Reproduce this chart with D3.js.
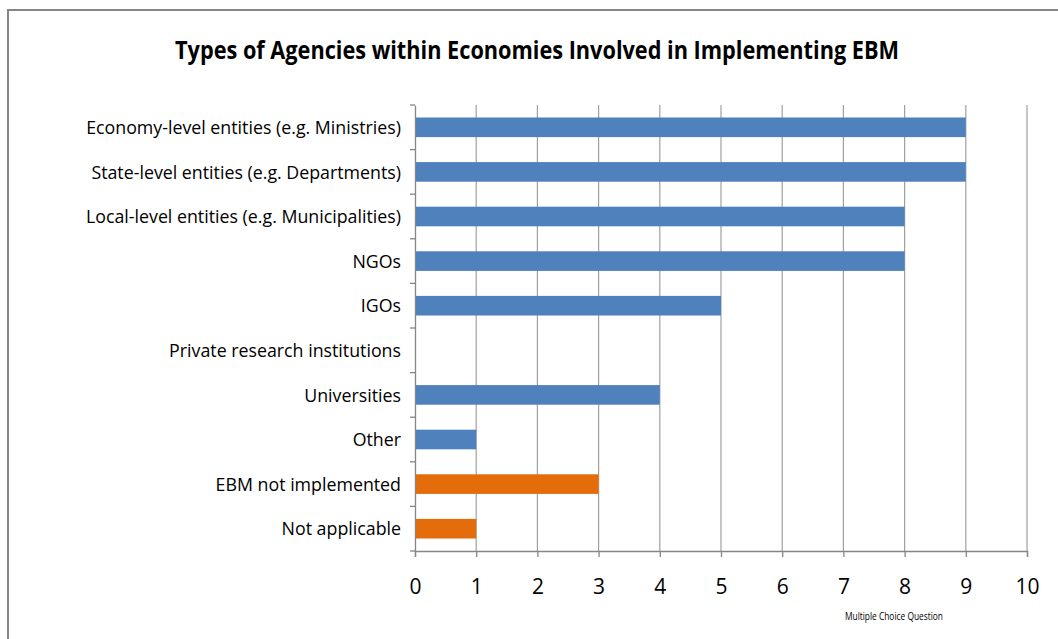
<!DOCTYPE html>
<html>
<head>
<meta charset="utf-8">
<script src="https://cdn.jsdelivr.net/npm/d3@7"></script>
<style>
  html, body { margin: 0; padding: 0; background: #fff; }
  svg { display: block; }
</style>
</head>
<body>
<svg id="chart" width="1058" height="639"></svg>
<script>
// Agency types, in the order they appear from top to bottom
const categories = [
  "Economy-level entities (e.g. Ministries)",
  "State-level entities (e.g. Departments)",
  "Local-level entities (e.g. Municipalities)",
  "NGOs",
  "IGOs",
  "Private research institutions",
  "Universities",
  "Other",
  "EBM not implemented",
  "Not applicable"
];
// Number of economies choosing each answer
const counts = [9, 9, 8, 8, 5, 0, 4, 1, 3, 1];
// Answer group: agency types vs. non-implementation answers
const groups = ["agency", "agency", "agency", "agency", "agency", "agency", "agency", "agency", "none", "none"];
const xTicks = [0, 1, 2, 3, 4, 5, 6, 7, 8, 9, 10];

const title = "Types of Agencies within Economies Involved in Implementing EBM";
const xTitle = "Multiple Choice Question";

const svg = d3.select("#chart");
const font = "'Open Sans', 'Liberation Sans', sans-serif";

// chart frame
svg.append("rect")
  .attr("x", 8).attr("y", 10)
  .attr("width", 1070).attr("height", 660)
  .attr("fill", "#fff")
  .attr("stroke", "#868686")
  .attr("stroke-width", 2);

const plot = { left: 415, right: 1027, top: 105, bottom: 551 };

const x = d3.scaleLinear().domain([0, 10]).range([plot.left, plot.right]);
const y = d3.scaleBand().domain(categories).range([plot.top, plot.bottom]).paddingInner(0.56).paddingOuter(0.28);
const color = d3.scaleOrdinal().domain(["agency", "none"]).range(["#4F81BD", "#E46C0A"]);

// vertical gridlines
svg.append("g")
  .selectAll("line")
  .data(xTicks.filter(d => d > 0))
  .join("line")
  .attr("x1", d => x(d)).attr("x2", d => x(d))
  .attr("y1", plot.top).attr("y2", plot.bottom)
  .attr("stroke", "#a0a0a0")
  .attr("stroke-width", 1.2);

// bars
svg.append("g")
  .selectAll("rect")
  .data(categories.map((c, i) => ({ c, v: counts[i], g: groups[i] })))
  .join("rect")
  .attr("x", x(0))
  .attr("y", d => y(d.c))
  .attr("width", d => x(d.v) - x(0))
  .attr("height", y.bandwidth())
  .attr("fill", d => color(d.g));

// category axis
const yAxis = svg.append("g")
  .attr("transform", `translate(${plot.left},0)`)
  .call(d3.axisLeft(y).tickSize(0).tickPadding(14));
yAxis.select(".domain").attr("stroke", "#868686").attr("stroke-width", 1.3);
yAxis.selectAll("text")
  .attr("font-family", font)
  .attr("font-size", 17.8)
  .attr("dy", "0.38em")
  .attr("fill", "#000");

// small tick marks between categories
svg.append("g")
  .selectAll("line")
  .data(d3.range(categories.length + 1))
  .join("line")
  .attr("x1", plot.left - 5).attr("x2", plot.left)
  .attr("y1", i => plot.top + i * (plot.bottom - plot.top) / categories.length)
  .attr("y2", i => plot.top + i * (plot.bottom - plot.top) / categories.length)
  .attr("stroke", "#868686").attr("stroke-width", 1.3);

// value axis
const xAxis = svg.append("g")
  .attr("transform", `translate(0,${plot.bottom})`)
  .call(d3.axisBottom(x).tickValues(xTicks).tickFormat(d3.format("d")).tickSize(6).tickPadding(22));
xAxis.select(".domain").attr("stroke", "#868686").attr("stroke-width", 1.3);
xAxis.selectAll(".tick line").attr("stroke", "#868686").attr("stroke-width", 1.3);
xAxis.selectAll("text")
  .attr("font-family", font)
  .attr("font-size", 21)
  .attr("fill", "#000");

// titles
svg.append("text")
  .attr("x", 537).attr("y", 59)
  .attr("text-anchor", "middle")
  .attr("font-family", font)
  .attr("font-weight", "bold")
  .attr("font-size", 25)
  .attr("textLength", 724)
  .attr("lengthAdjust", "spacingAndGlyphs")
  .attr("fill", "#000")
  .text(title);

svg.append("text")
  .attr("x", 894).attr("y", 620)
  .attr("text-anchor", "middle")
  .attr("font-family", font)
  .attr("font-size", 10.5)
  .attr("textLength", 98)
  .attr("lengthAdjust", "spacingAndGlyphs")
  .attr("fill", "#000")
  .text(xTitle);
</script>
</body>
</html>
